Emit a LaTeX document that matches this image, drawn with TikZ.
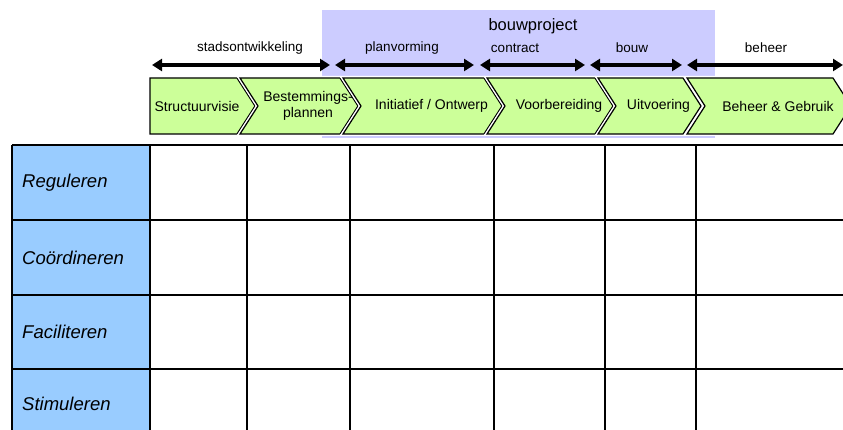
\documentclass[tikz,border=0pt]{standalone}
\usepackage{fontspec}
\setmainfont{Liberation Sans}
\usetikzlibrary{arrows.meta}

\definecolor{fasegroen}{HTML}{CCFF99}
\definecolor{projectblauw}{HTML}{CCCCFF}
\definecolor{rolblauw}{HTML}{99CCFF}

\def\chevTop{78}
\def\chevMid{106}
\def\chevBot{134}
\def\chevDiep{18}
\def\tabTop{145}
\def\tabBot{444}

\tikzset{
  fase/.style={fill=fasegroen, draw=black, line width=1.2pt, line join=miter,
    preaction={draw=white, line width=4pt}},
  fasetekst/.style={font=\fontsize{14}{15.5}\selectfont, align=center, inner sep=0pt},
  periode/.style={<->, line width=3.5pt},
  periodetekst/.style={font=\fontsize{13.5}{15}\selectfont, inner sep=0pt},
  roltekst/.style={font=\fontsize{18.5}{20}\selectfont\itshape, anchor=west, inner sep=0pt},
  rooster/.style={line width=1.5pt}
}

\begin{document}
\begin{tikzpicture}[x=1pt, y=-1pt, >={Triangle[length=10pt,width=12pt]}]
        \useasboundingbox (0,0) rectangle (843,430);
        \clip (0,0) rectangle (843,430);

        % bouwproject achtergrond
        \fill[projectblauw] (322,10) rectangle (715,138);
        \node[font=\fontsize{16.5}{18}\selectfont, inner sep=0pt] (bouwproject) at (533,26) {bouwproject};

        % perioden met pijlen
        \foreach \naam/\tekst/\tx/\van/\tot in {stads/stadsontwikkeling/250/152/330,
                plan/planvorming/402/335/474, contract/contract/515/480/585,
                bouw/bouw/632/590/682, beheer/beheer/766/687/843} {
            \coordinate (\naam-l) at (\van,65);
            \coordinate (\naam-r) at (\tot,65);
            \draw[periode] (\naam-l) -- (\naam-r);
            \node[periodetekst] (\naam-tekst) at (\tx,48) {\tekst};
        }

        % fasen
        \draw[fase] (150,\chevTop) -- (237,\chevTop) -- (237+\chevDiep,\chevMid)
               -- (237,\chevBot) -- (150,\chevBot) -- cycle;
        \node[fasetekst] (structuurvisie) at (197,\chevMid) {Structuurvisie};
        \foreach \naam/\tekst/\links/\rechts in {bestemming/{Bestemmings-\\plannen}/240/340,
                initiatief/{Initiatief / Ontwerp}/343/484, voorbereiding/Voorbereiding/487/595,
                uitvoering/Uitvoering/598/683, beheergebruik/Beheer \& Gebruik/687/833} {
            \draw[fase] (\links,\chevTop) -- (\rechts,\chevTop) -- (\rechts+\chevDiep,\chevMid)
                   -- (\rechts,\chevBot) -- (\links,\chevBot) -- (\links+\chevDiep,\chevMid) -- cycle;
            \node[fasetekst] (\naam) at ({(\links+\rechts)/2+\chevDiep},\chevMid) {\tekst};
        }

        % rollen tabel
        \fill[rolblauw] (12,\tabTop) rectangle (150,\tabBot);
        \foreach \x in {12,150,247,350,494,605,696} {
            \draw[rooster] (\x,\tabTop) -- (\x,\tabBot);
        }
        \foreach \y in {145,220,295,369} {
            \draw[rooster] (12,\y) -- (850,\y);
        }
        \node[roltekst] (reguleren) at (22,183) {Reguleren};
        \node[roltekst] (coordineren) at (22,258) {Coördineren};
        \node[roltekst] (faciliteren) at (22,332) {Faciliteren};
        \node[roltekst] (stimuleren) at (22,404) {Stimuleren};
      \end{tikzpicture}
\end{document}
